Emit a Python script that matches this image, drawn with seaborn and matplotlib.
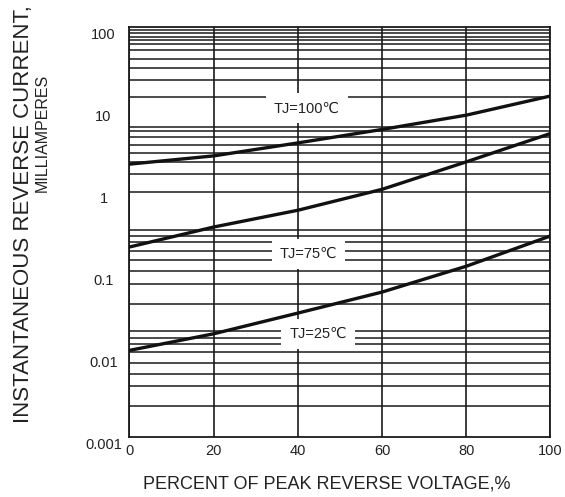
import matplotlib
matplotlib.use("Agg")
import matplotlib.pyplot as plt
import matplotlib.transforms as mtransforms
from matplotlib import font_manager
from matplotlib.ticker import NullFormatter
import numpy as np
import pandas as pd
import seaborn as sns

# values
x_pct = [0, 20, 40, 60, 80, 100]
i_100 = [2.11, 2.66, 3.83, 5.59, 8.35, 14.3]
i_75 = [0.206, 0.361, 0.578, 1.04, 2.25, 4.99]
i_25 = [0.0113, 0.0180, 0.0322, 0.0581, 0.120, 0.281]

curve_names = ["TJ=100\u2103", "TJ=75\u2103", "TJ=25\u2103"]
y_ticks = [100, 10, 1, 0.1, 0.01, 0.001]
y_tick_labels = ["100", "10", "1", "0.1", "0.01", "0.001"]
x_ticks = [0, 20, 40, 60, 80, 100]

# horizontal rulings of the printed grid (they do not follow a clean log pattern)
grid_vals = [92.4, 83.8, 75.9, 68.8, 62.4, 51.9, 40.0, 31.0, 22.3, 13.98,
             6.01, 5.33, 4.50, 3.59, 2.87, 2.23, 1.59, 0.967,
             0.3295, 0.2806, 0.2351, 0.1851, 0.1417, 0.1040, 0.0722, 0.0419,
             0.01942, 0.01595, 0.01336, 0.01076, 0.00799, 0.00586, 0.00410, 0.00234]

df = pd.DataFrame({
    "pct": x_pct * 3,
    "current": i_100 + i_75 + i_25,
    "curve": [curve_names[0]] * 6 + [curve_names[1]] * 6 + [curve_names[2]] * 6,
})

sns.set_theme(style="white")
plt.rcParams["font.family"] = ["Liberation Sans", "DejaVu Sans"]

fig = plt.figure(figsize=(5.65, 4.97), dpi=100)
ax = fig.add_axes([0.2292, 0.1213, 0.7451, 0.8249])

sns.lineplot(data=df, x="pct", y="current", hue="curve",
             palette={n: "#111111" for n in curve_names},
             linewidth=2.4, legend=False, ax=ax, zorder=4)

ax.set_yscale("log")
ax.set_xlim(0, 100)
ax.set_ylim(0.001, 100)

ax.set_xticks(x_ticks)
ax.set_yticks(y_ticks, y_tick_labels)
ax.set_yticks(grid_vals, minor=True)
ax.yaxis.set_minor_formatter(NullFormatter())

ax.set_axisbelow(True)
ax.grid(False)
ax.grid(True, axis="x", which="major", color="#1a1a1a", lw=1.2)
ax.grid(True, axis="y", which="minor", color="#1a1a1a", lw=1.1)
for s in ax.spines.values():
    s.set_color("#1a1a1a")
    s.set_linewidth(1.3)

ax.tick_params(axis="both", which="both", length=0, labelsize=10.5, colors="#222222")
ax.tick_params(axis="y", which="major", pad=18.7)
ax.tick_params(axis="x", which="major", pad=5.5)
shift = mtransforms.ScaledTranslation(0, -7 / 100, fig.dpi_scale_trans)
for lab in ax.get_yticklabels():
    lab.set_horizontalalignment("center")
    lab.set_transform(lab.get_transform() + shift)

ax.set_xlabel("")
ax.set_ylabel("")

# curve labels sitting in white boxes over the grid
label_pos = [(42.1, 10.1), (42.5, 0.171), (44.8, 0.0181)]
for name, (lx, ly) in zip(curve_names, label_pos):
    ax.text(lx, ly, name, ha="center", va="center", fontsize=10.5, color="#222222",
            zorder=3, bbox=dict(boxstyle="square,pad=0.55", fc="white", ec="none"))

fig.text(327 / 565, 1 - 484 / 497, "PERCENT OF PEAK REVERSE VOLTAGE,%",
         ha="center", va="center", fontsize=13, color="#222222")

names = {f.name for f in font_manager.fontManager.ttflist}
narrow = "Liberation Sans Narrow" in names
fig.text(24 / 565, 1 - 214 / 497, "INSTANTANEOUS REVERSE CURRENT,",
         rotation=90, ha="center", va="center", fontsize=16, color="#222222")
fig.text(42.5 / 565, 1 - 133 / 497, "MILLIAMPERES", rotation=90, ha="center", va="center",
         fontsize=14 if narrow else 11.5, color="#222222",
         family=["Liberation Sans Narrow", "DejaVu Sans"] if narrow else ["Liberation Sans", "DejaVu Sans"])

fig.savefig("out.png", dpi=100)
